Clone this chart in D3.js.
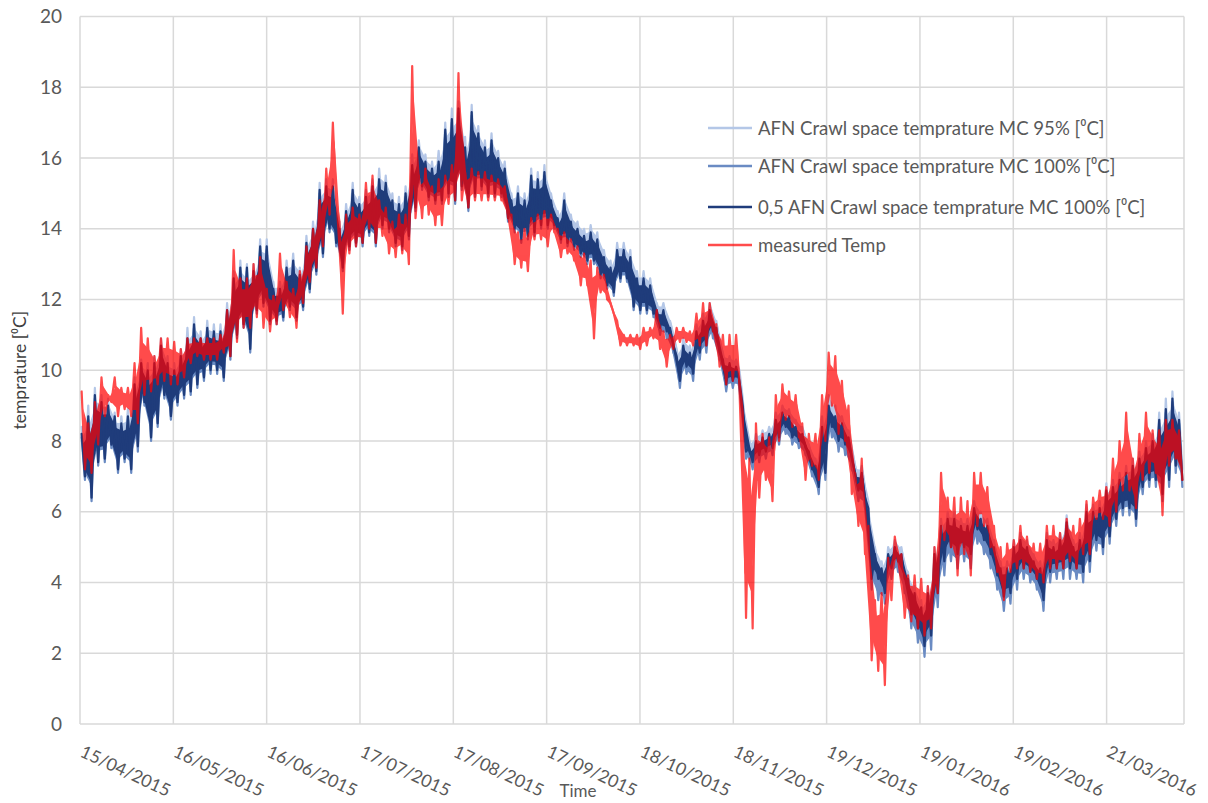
<!DOCTYPE html>
<html>
<head>
<meta charset="utf-8">
<script src="https://cdn.jsdelivr.net/npm/d3@7"></script>
<style>
  html, body { margin: 0; padding: 0; background: #fff; }
  svg { display: block; font-family: Lato, "Open Sans", "Liberation Sans", sans-serif; }
</style>
</head>
<body>
<svg id="chart" width="1208" height="803"></svg>
<script>
// Time axis: first and last timestamp of the record, tick dates (31 day spacing)
const startDate = new Date(2015, 3, 15, 0);
const endDate = new Date(2016, 3, 15, 17);
const tickLabels = ["15/04/2015", "16/05/2015", "16/06/2015", "17/07/2015", "17/08/2015", "17/09/2015",
  "18/10/2015", "18/11/2015", "19/12/2015", "19/01/2016", "19/02/2016", "21/03/2016"];
const yTicks = [0, 2, 4, 6, 8, 10, 12, 14, 16, 18, 20];

const seriesNames = [
  "AFN Crawl space temprature MC 95% [\u2070C]",
  "AFN Crawl space temprature MC 100% [\u2070C]",
  "0,5 AFN Crawl space temprature MC 100% [\u2070C]",
  "measured Temp"
];

// Per-period maxima / minima of the hourly records (167 equal periods over the year)
const afn95High = [
  8.4,9.0,9.5,9.3,9.2,8.8,8.7,8.9,9.8,10.3,10.2,10.4,10.9,10.4,10.2,10.6,11.2,11.5,11.1,11.4,11.3,11.3,11.9,12.8,13.1,13.0,13.0,13.7,
  13.7,12.5,12.5,13.1,13.3,12.9,13.8,14.2,15.3,15.4,15.4,14.2,14.7,15.3,14.9,15.1,15.4,15.7,15.5,15.0,14.9,15.2,16.1,16.5,16.1,15.9,16.2,17.0,
  17.4,17.6,16.6,17.5,16.9,16.5,16.7,16.2,15.9,15.0,15.2,15.0,15.7,15.6,15.8,15.0,14.5,15.0,14.4,14.2,14.0,14.1,13.9,13.4,13.1,13.6,13.6,13.4,
  12.8,12.8,12.6,11.9,11.9,11.4,10.6,10.9,10.7,11.3,11.6,11.9,11.4,10.5,10.4,10.3,9.2,8.0,8.2,8.3,8.4,8.8,9.0,8.9,8.6,8.4,7.9,7.5,
  8.7,9.3,9.0,8.7,8.3,7.3,7.3,6.3,5.0,4.6,5.0,5.2,5.0,4.3,3.9,3.5,3.9,5.0,5.8,6.0,6.0,5.8,5.8,6.3,6.0,5.8,5.2,4.6,
  4.6,5.2,5.4,5.2,4.8,4.6,5.4,5.2,5.4,5.9,5.2,5.4,6.2,6.2,6.3,6.8,6.9,7.1,7.3,7.5,7.7,8.0,8.2,8.8,9.2,9.4,8.8
];
const afn95Low = [
  7.3,6.8,7.7,7.8,8.1,7.5,7.8,7.5,8.1,9.3,8.4,8.8,9.5,9.0,9.3,9.5,9.7,9.9,10.0,10.2,10.2,10.1,10.6,11.2,11.5,10.9,11.9,12.1,
  11.7,11.7,11.8,12.1,11.8,12.1,12.6,13.1,13.6,14.3,13.9,13.2,13.8,13.9,13.9,14.2,13.9,14.4,14.3,13.9,13.8,14.1,14.9,15.5,15.2,15.1,15.1,15.3,
  15.1,15.5,14.9,15.3,15.5,15.3,15.3,15.3,14.6,14.3,14.0,14.1,14.2,14.4,14.4,14.4,14.0,13.9,13.8,13.6,13.4,13.4,13.0,12.7,12.5,12.9,12.9,12.1,
  12.0,12.0,11.9,11.5,11.4,11.0,10.0,10.4,10.2,10.8,11.0,11.4,10.8,9.9,10.0,10.0,8.0,7.7,7.9,8.0,8.1,8.4,8.7,8.4,8.3,8.1,7.5,7.0,
  7.4,8.7,8.3,8.2,7.8,6.9,6.7,4.4,4.4,4.0,4.7,4.9,4.4,3.4,3.0,2.5,2.8,4.0,4.9,5.3,5.1,5.3,5.1,5.8,5.5,5.1,4.5,3.9,
  4.0,4.4,4.7,4.6,4.4,3.8,4.6,4.7,4.7,4.7,4.7,4.6,4.9,5.5,5.3,5.6,6.1,6.4,6.4,6.1,7.0,7.2,7.2,6.8,7.2,7.6,7.2
];
const afn100High = [
  8.1,8.6,9.2,9.0,8.9,8.6,8.4,8.6,9.5,10.1,9.9,10.1,10.6,10.1,9.9,10.3,10.8,11.2,10.8,11.1,11.0,11.0,11.6,12.5,12.8,12.8,12.7,13.4,
  13.4,12.2,12.2,12.8,13.0,12.6,13.5,13.9,15.0,15.1,15.1,13.9,14.4,15.0,14.6,14.8,15.1,15.3,15.2,14.7,14.6,14.9,15.7,16.2,15.8,15.6,15.8,16.7,
  17.0,17.3,16.2,17.2,16.6,16.2,16.4,15.9,15.6,14.7,14.9,14.7,15.4,15.3,15.5,14.7,14.2,14.7,14.1,13.9,13.7,13.8,13.6,13.1,12.8,13.3,13.3,13.1,
  12.5,12.5,12.3,11.6,11.6,11.1,10.3,10.6,10.4,11.0,11.3,11.6,11.1,10.2,10.1,10.0,8.9,7.7,7.9,8.0,8.1,8.5,8.7,8.6,8.3,8.1,7.6,7.2,
  8.3,8.9,8.6,8.4,8.0,7.0,7.0,6.0,4.7,4.3,4.7,4.9,4.7,4.0,3.6,3.2,3.6,4.7,5.5,5.7,5.7,5.5,5.5,6.0,5.7,5.5,4.9,4.3,
  4.3,4.9,5.1,4.9,4.5,4.3,5.1,4.9,5.1,5.6,4.9,5.1,5.9,5.9,6.0,6.5,6.6,6.8,7.0,7.2,7.4,7.7,7.9,8.5,8.8,9.1,8.5
];
const afn100Low = [
  6.9,6.3,7.3,7.4,7.8,7.1,7.4,7.1,7.7,9.0,8.0,8.4,9.2,8.6,9.0,9.2,9.3,9.5,9.7,9.9,9.9,9.7,10.3,10.9,11.2,10.5,11.6,11.8,
  11.3,11.3,11.4,11.7,11.4,11.7,12.2,12.7,13.2,13.9,13.5,12.8,13.4,13.5,13.5,13.8,13.5,14.0,13.9,13.5,13.4,13.7,14.5,15.1,14.8,14.7,14.7,14.9,
  14.7,15.1,14.5,14.9,15.1,14.9,14.9,14.9,14.2,13.9,13.6,13.7,13.8,14.0,14.0,14.0,13.6,13.5,13.4,13.2,13.0,13.0,12.6,12.3,12.1,12.5,12.5,11.7,
  11.6,11.6,11.5,11.0,10.9,10.5,9.5,9.9,9.7,10.3,10.5,10.9,10.3,9.4,9.5,9.5,7.5,7.2,7.4,7.5,7.6,7.9,8.2,7.9,7.8,7.6,7.0,6.5,
  6.9,8.1,7.7,7.6,7.2,6.3,6.1,3.8,3.5,3.4,4.1,4.3,3.7,2.7,2.3,1.9,2.1,3.3,4.2,4.6,4.4,4.6,4.4,5.1,4.8,4.4,3.8,3.2,
  3.4,3.8,4.1,4.0,3.8,3.2,4.0,4.1,4.1,4.1,4.1,4.0,4.3,4.9,4.8,5.1,5.6,5.9,5.9,5.6,6.5,6.7,6.7,6.3,6.7,7.1,6.7
];
const afnHalfHigh = [
  8.2,8.7,9.3,9.1,9.0,8.7,8.5,8.7,9.6,10.2,10.0,10.2,10.7,10.2,10.0,10.4,10.9,11.3,10.9,11.2,11.1,11.1,11.7,12.6,12.9,12.9,12.8,13.5,
  13.5,12.3,12.3,12.9,13.1,12.7,13.6,14.0,15.1,15.2,15.2,14.0,14.5,15.1,14.7,14.9,15.2,15.4,15.3,14.8,14.7,15.0,15.8,16.3,15.9,15.7,15.9,16.8,
  17.1,17.4,16.3,17.3,16.7,16.3,16.5,16.0,15.7,14.8,15.0,14.8,15.5,15.4,15.6,14.8,14.3,14.8,14.2,14.0,13.8,13.9,13.7,13.2,12.9,13.4,13.4,13.2,
  12.6,12.6,12.4,11.7,11.7,11.2,10.4,10.7,10.5,11.1,11.4,11.7,11.2,10.3,10.2,10.1,9.0,7.8,8.0,8.1,8.2,8.6,8.8,8.7,8.4,8.2,7.7,7.3,
  8.4,9.0,8.7,8.5,8.1,7.1,7.1,6.1,4.8,4.4,4.8,5.0,4.8,4.1,3.7,3.3,3.7,4.8,5.6,5.8,5.8,5.6,5.6,6.1,5.8,5.6,5.0,4.4,
  4.4,5.0,5.2,5.0,4.6,4.4,5.2,5.0,5.2,5.7,5.0,5.2,6.0,6.0,6.1,6.6,6.7,6.9,7.1,7.3,7.5,7.8,8.0,8.6,8.9,9.2,8.6
];
const afnHalfLow = [
  7.0,6.4,7.4,7.5,7.9,7.2,7.5,7.2,7.85,9.1,8.1,8.5,9.3,8.7,9.1,9.3,9.4,9.6,9.8,10.0,10.0,9.8,10.4,11.0,11.3,10.6,11.7,11.9,
  11.4,11.4,11.5,11.8,11.5,11.8,12.3,12.8,13.3,14.0,13.6,12.9,13.5,13.6,13.6,13.9,13.6,14.1,14.0,13.6,13.5,13.8,14.6,15.2,14.9,14.8,14.8,15.0,
  14.8,15.2,14.6,15.0,15.2,15.0,15.0,15.0,14.3,14.0,13.7,13.8,13.9,14.1,14.1,14.1,13.7,13.6,13.5,13.3,13.1,13.1,12.7,12.4,12.2,12.6,12.6,11.8,
  11.7,11.7,11.6,11.2,11.1,10.7,9.7,10.1,9.9,10.5,10.7,11.1,10.5,9.6,9.7,9.7,7.7,7.4,7.6,7.7,7.8,8.1,8.4,8.1,8.0,7.8,7.2,6.7,
  7.1,8.4,8.0,7.9,7.5,6.6,6.4,4.1,4.1,3.7,4.4,4.6,4.1,3.1,2.7,2.2,2.5,3.7,4.6,5.0,4.8,5.0,4.8,5.5,5.2,4.8,4.2,3.6,
  3.7,4.1,4.4,4.3,4.1,3.5,4.3,4.4,4.4,4.4,4.4,4.3,4.6,5.2,5.0,5.3,5.8,6.1,6.1,5.8,6.7,6.9,6.9,6.5,6.9,7.3,6.9
];
const measuredHigh = [
  9.4,8.5,9.1,9.8,9.3,9.8,9.5,9.5,10.2,11.2,10.9,10.4,10.9,10.9,10.8,10.6,10.9,10.9,10.9,10.9,10.9,11.0,11.7,13.4,12.6,12.6,13.0,13.2,
  12.3,12.1,13.3,12.5,12.3,12.8,13.5,14.0,14.8,15.7,17.0,14.2,14.4,14.6,14.4,15.3,15.5,14.8,14.6,14.2,14.4,14.4,18.6,15.5,15.7,15.2,15.4,15.5,
  15.8,18.4,15.6,15.7,15.6,15.6,15.5,15.4,15.2,14.4,13.9,14.0,14.3,14.4,14.5,14.4,14.0,13.9,13.7,13.5,13.3,13.1,12.9,12.7,11.9,11.4,11.0,11.0,
  11.0,11.2,11.2,11.7,11.1,11.0,11.2,11.2,11.1,11.6,11.9,11.9,11.3,11.0,11.0,11.0,8.8,7.5,8.5,8.2,8.1,9.3,9.6,9.4,9.3,8.5,8.2,8.2,
  9.3,10.5,10.4,9.7,9.0,7.1,7.5,5.6,3.5,3.7,4.7,5.3,4.8,4.2,4.2,4.1,3.9,5.0,7.1,6.4,6.4,6.4,6.3,7.1,7.1,6.7,5.6,5.0,
  5.1,5.2,5.6,5.3,5.1,5.1,5.6,5.6,5.4,5.8,5.6,5.8,6.3,6.4,6.6,6.7,7.5,8.0,8.8,7.5,8.2,8.8,8.3,8.3,8.6,8.6,8.3
];
const measuredLow = [
  7.2,7.1,7.9,8.7,9.1,8.7,8.9,8.7,8.5,9.3,9.4,9.6,9.7,9.6,9.6,9.8,10.2,10.4,10.3,10.3,10.3,10.5,10.4,10.8,11.2,11.2,11.5,11.2,
  11.1,11.3,11.7,11.5,11.2,11.9,12.5,12.9,13.5,14.4,14.8,11.6,13.3,13.5,13.6,14.0,13.6,13.8,13.3,13.2,13.3,13.0,14.3,14.3,14.4,14.1,14.1,14.7,
  14.8,14.8,14.6,14.8,14.8,14.8,14.8,14.8,14.3,13.0,12.9,12.8,13.7,13.7,13.5,13.9,13.2,13.3,13.1,12.4,12.4,10.9,12.2,12.0,11.6,10.7,10.7,10.7,
  10.6,10.7,10.9,10.6,10.1,10.6,10.8,10.8,10.7,10.7,10.7,11.1,10.1,9.6,9.7,9.7,3.0,2.7,6.4,6.9,6.3,8.0,8.6,8.4,8.1,6.9,7.3,6.9,
  8.0,9.0,8.2,8.0,6.5,5.6,4.8,1.8,1.5,1.1,3.5,4.6,3.0,2.9,2.7,2.5,2.7,3.7,5.2,5.0,4.2,4.8,4.2,5.6,5.6,5.0,4.3,3.5,
  4.3,4.4,4.4,4.3,4.1,4.0,4.4,4.4,4.4,4.6,4.4,4.8,4.8,5.8,5.8,5.6,6.0,6.6,6.6,6.1,6.9,7.1,7.1,5.9,7.3,7.5,6.9
];

const colors = ["#b4c7e7", "#6a8bc3", "#1f3c7b", "#ff0000"];
const widths = [2.2, 2.2, 2.2, 2.2];
const opacities = [1, 1, 1, 0.7];

const svg = d3.select("#chart");
const margin = { left: 80, right: 24, top: 16.5, bottom: 79 };
const W = 1208, H = 803;
const x = d3.scaleTime().domain([startDate, endDate]).range([margin.left, W - margin.right]);
const y = d3.scaleLinear().domain([0, 20]).range([H - margin.bottom, margin.top]);

const parse = d3.timeParse("%d/%m/%Y");
const tickDates = tickLabels.map(parse);

// Gridlines
const grid = svg.append("g").attr("stroke", "#d9d9d9").attr("stroke-width", 1.5);
grid.selectAll("line.h").data(yTicks).join("line")
  .attr("x1", x.range()[0]).attr("x2", x.range()[1])
  .attr("y1", d => y(d)).attr("y2", d => y(d));
grid.selectAll("line.v").data(tickDates).join("line")
  .attr("x1", d => x(d)).attr("x2", d => x(d))
  .attr("y1", y(0)).attr("y2", y(20));
grid.append("line").attr("x1", x.range()[1]).attr("x2", x.range()[1]).attr("y1", y(0)).attr("y2", y(20));

// Y axis labels
svg.append("g").selectAll("text").data(yTicks).join("text")
  .attr("x", 62).attr("y", d => y(d)).attr("dy", "0.35em")
  .attr("text-anchor", "end").attr("fill", "#595959").attr("font-size", 19)
  .text(d => d);

// X axis labels (rotated)
svg.append("g").selectAll("text").data(tickDates).join("text")
  .attr("transform", (d) => `translate(${x(d) - 1},${y(0) + 32}) rotate(25)`)
  .attr("fill", "#595959").attr("font-size", 17.5)
  .text((d, i) => tickLabels[i]);

// Axis titles
svg.append("text").attr("x", 578).attr("y", 797).attr("text-anchor", "middle")
  .attr("fill", "#595959").attr("font-size", 17).text("Time");
svg.append("text").attr("transform", `translate(26,${y(10)}) rotate(-90)`)
  .attr("text-anchor", "middle").attr("fill", "#404040").attr("font-size", 17.5)
  .text("temprature [\u2070C]");

// Each period contributes its maximum then its minimum to the trace
function toPoints(high, low) {
  const n = high.length;
  const span = endDate - startDate;
  const pts = [];
  for (let i = 0; i < n; i++) {
    pts.push({ t: new Date(+startDate + (i + 0.25) * span / n), v: high[i] });
    pts.push({ t: new Date(+startDate + (i + 0.75) * span / n), v: low[i] });
  }
  return pts;
}
// Dense core of the daily swing, where the hourly trace overlaps itself
function toCore(high, low) {
  const n = high.length;
  const span = endDate - startDate;
  return high.map((h, i) => {
    const r = h - low[i];
    return { t: new Date(+startDate + (i + 0.5) * span / n), hi: h - 0.22 * r, lo: low[i] + 0.22 * r };
  });
}
const sources = [
  [afn95High, afn95Low],
  [afn100High, afn100Low],
  [afnHalfHigh, afnHalfLow],
  [measuredHigh, measuredLow]
];

svg.append("clipPath").attr("id", "plot-clip").append("rect")
  .attr("x", x.range()[0]).attr("y", y(20)).attr("width", x.range()[1] - x.range()[0]).attr("height", y(0) - y(20));

const line = d3.line().x(d => x(d.t)).y(d => y(d.v));
const band = d3.area().x(d => x(d.t)).y0(d => y(d.lo)).y1(d => y(d.hi));

const plot = svg.append("g").attr("clip-path", "url(#plot-clip)");
const groups = plot.selectAll("g").data(sources).join("g")
  .attr("opacity", (d, i) => opacities[i]);
groups.append("path")
  .attr("d", d => band(toCore(d[0], d[1])))
  .attr("fill", (d, i) => colors[i]);
groups.append("path")
  .attr("d", d => line(toPoints(d[0], d[1])))
  .attr("fill", "none")
  .attr("stroke", (d, i) => colors[i])
  .attr("stroke-width", (d, i) => widths[i])
  .attr("stroke-linejoin", "round")
  .attr("stroke-linecap", "round");

// Legend
const legendY = [128, 166, 207, 245];
const legend = svg.append("g").selectAll("g").data(seriesNames).join("g")
  .attr("transform", (d, i) => `translate(708,${legendY[i]})`);
legend.append("line").attr("x1", 0).attr("x2", 44).attr("y1", 0).attr("y2", 0)
  .attr("stroke", (d, i) => colors[i]).attr("stroke-width", 2.5)
  .attr("stroke-opacity", (d, i) => opacities[i]);
legend.append("text").attr("x", 50).attr("y", 0).attr("dy", "0.35em")
  .attr("fill", "#595959").attr("font-size", 18.6).text(d => d);
</script>
</body>
</html>
